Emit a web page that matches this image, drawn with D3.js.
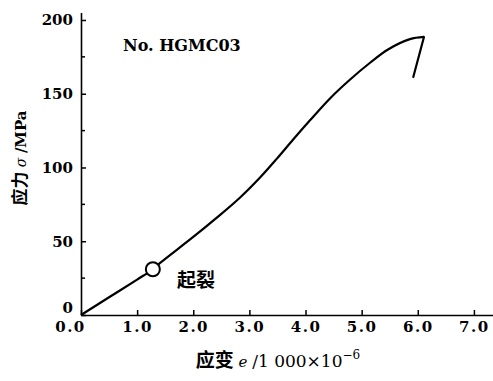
<!DOCTYPE html>
<html>
<head>
<meta charset="utf-8">
<script src="https://cdn.jsdelivr.net/npm/d3@7"></script>
<style>
  body { margin: 0; background: #fff; }
  svg { display: block; }
</style>
</head>
<body>
<script>
// stress-strain curve
const strain = [0, 0.5, 1.0, 1.28, 1.41, 2.0, 2.42, 2.83, 3.19, 3.49, 3.78, 4.08, 4.44, 4.79, 5.15, 5.47, 5.86, 6.11];
const stress = [0, 12, 24, 31, 35.3, 52.9, 66, 79.5, 93.2, 106, 119, 132, 147, 159.5, 171, 180, 187, 188.5];
// the drop after the peak
const dropStrain = [6.11, 5.92];
const dropStress = [188.5, 161.4];
// crack start marker
const crackStrain = [1.28];
const crackStress = [31];

const xTicks = [0, 1, 2, 3, 4, 5, 6, 7];
const yTicks = [0, 50, 100, 150, 200];
const yMinor = [25, 75, 125, 175];

const w = 493;
const h = 381;

const svg = d3.select("body")
  .append("svg")
  .attr("width", w)
  .attr("height", h);

const x = d3.scaleLinear().domain([0, 7.34]).range([81, 493]);
const y = d3.scaleLinear().domain([0, 205]).range([315, 12.6]);

const numFont = "'DejaVu Serif', 'Liberation Serif', serif";
const cjkFont = "'Noto Sans CJK SC', sans-serif";

// x axis
const xAxis = svg.append("g")
  .attr("transform", "translate(0," + y(0) + ")")
  .call(d3.axisBottom(x)
    .tickValues(xTicks)
    .tickSizeInner(-5)
    .tickSizeOuter(0)
    .tickPadding(6)
    .tickFormat(d3.format(".1f")));

xAxis.select(".domain").attr("stroke", "#000").attr("stroke-width", 1.6);
xAxis.selectAll(".tick line").attr("stroke", "#000").attr("stroke-width", 1.5);
xAxis.selectAll(".tick text")
  .attr("font-family", numFont)
  .attr("font-weight", "bold")
  .attr("font-size", 15)
  .attr("letter-spacing", 1.5)
  .attr("fill", "#000")
  .attr("dx", (d) => (d === 0 ? -11 : 0));

// y axis
const yAxis = svg.append("g")
  .attr("transform", "translate(" + x(0) + ",0)")
  .call(d3.axisLeft(y)
    .tickValues(yTicks)
    .tickSizeInner(-5)
    .tickSizeOuter(0)
    .tickPadding(8));

yAxis.select(".domain").attr("stroke", "#000").attr("stroke-width", 1.6);
yAxis.selectAll(".tick line").attr("stroke", "#000").attr("stroke-width", 1.5);
yAxis.selectAll(".tick text")
  .attr("font-family", numFont)
  .attr("font-weight", "bold")
  .attr("font-size", 15)
  .attr("fill", "#000")
  .attr("dy", (d) => (d === 0 ? "-0.2em" : "0.32em"));

svg.append("g")
  .selectAll("line")
  .data(yMinor)
  .enter()
  .append("line")
  .attr("x1", x(0))
  .attr("x2", x(0) + 4)
  .attr("y1", (d) => y(d))
  .attr("y2", (d) => y(d))
  .attr("stroke", "#000")
  .attr("stroke-width", 1.5);

// axis titles
const yTitle = svg.append("text")
  .attr("transform", "translate(26,158) rotate(-90)")
  .attr("text-anchor", "middle")
  .attr("font-size", 17)
  .attr("font-weight", "bold")
  .attr("fill", "#000");
yTitle.append("tspan").attr("font-family", cjkFont).text("应力");
yTitle.append("tspan").attr("font-family", numFont).attr("font-style", "italic").attr("font-weight", "normal").attr("font-size", 14).text(" σ ");
yTitle.append("tspan").attr("font-family", numFont).attr("font-size", 15).text("/MPa");

const xTitle = svg.append("text")
  .attr("x", 278)
  .attr("y", 367)
  .attr("text-anchor", "middle")
  .attr("font-size", 19)
  .attr("fill", "#000");
xTitle.append("tspan").attr("font-family", cjkFont).attr("font-weight", "bold").text("应变");
xTitle.append("tspan").attr("font-family", numFont).attr("font-style", "italic").attr("font-size", 15).text(" e ");
xTitle.append("tspan").attr("font-family", numFont).attr("font-size", 17).text("/1 000×10");
xTitle.append("tspan").attr("font-family", numFont).attr("font-size", 12).attr("dy", -8).text("−6");

// specimen label
svg.append("text")
  .attr("x", 123)
  .attr("y", 51)
  .attr("font-family", numFont)
  .attr("font-weight", "bold")
  .attr("font-size", 16)
  .attr("fill", "#000")
  .text("No. HGMC03");

// curve
const pts = strain.map((d, i) => [d, stress[i]]);
const dropPts = dropStrain.map((d, i) => [d, dropStress[i]]);

const line = d3.line()
  .x((d) => x(d[0]))
  .y((d) => y(d[1]));

svg.append("path")
  .attr("d", line.curve(d3.curveCatmullRom.alpha(0.5))(pts))
  .attr("fill", "none")
  .attr("stroke", "#000")
  .attr("stroke-width", 2.2)
  .attr("stroke-linejoin", "round");

svg.append("path")
  .attr("d", line.curve(d3.curveLinear)(dropPts))
  .attr("fill", "none")
  .attr("stroke", "#000")
  .attr("stroke-width", 2.2)
  .attr("stroke-linecap", "round")
  .attr("stroke-linejoin", "round");

// crack marker
svg.selectAll(".crack")
  .data(crackStrain)
  .enter()
  .append("circle")
  .attr("class", "crack")
  .attr("cx", (d) => x(d))
  .attr("cy", (d, i) => y(crackStress[i]))
  .attr("r", 7)
  .attr("fill", "#fff")
  .attr("stroke", "#000")
  .attr("stroke-width", 2);

svg.append("text")
  .attr("x", 177)
  .attr("y", 287)
  .attr("font-family", cjkFont)
  .attr("font-weight", "bold")
  .attr("font-size", 19)
  .attr("fill", "#000")
  .text("起裂");
</script>
</body>
</html>
